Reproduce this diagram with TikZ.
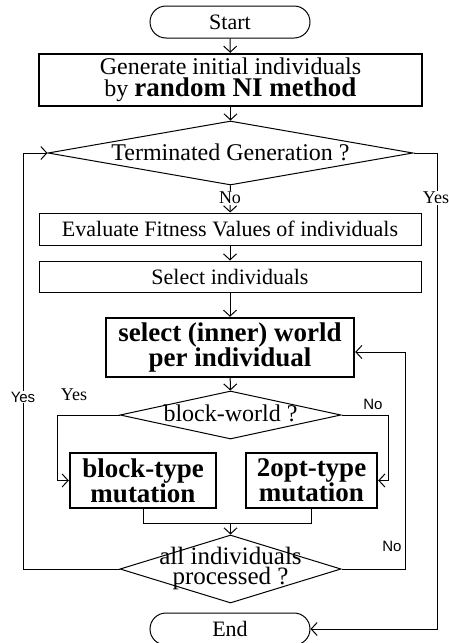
\documentclass[tikz,border=0pt]{standalone}
\usepackage{fontspec}
\setmainfont{Liberation Serif}
\newfontfamily\labsans{Liberation Sans}
\usetikzlibrary{arrows.meta,shapes.geometric,shapes.misc}

\begin{document}
\begin{tikzpicture}[x=1pt, y=-1pt,
    every node/.style={font=\fontsize{22}{22}\selectfont},
    big/.style={font=\fontsize{24}{22}\selectfont},
    term/.style={rounded rectangle, draw, line width=1pt, minimum width=160pt, minimum height=32pt, inner sep=0pt},
    box/.style={rectangle, draw, line width=1pt, inner sep=0pt},
    bbox/.style={rectangle, draw, line width=2.4pt, inner sep=0pt, align=center, font=\fontsize{27}{25}\selectfont\bfseries},
    dec/.style={diamond, draw, line width=1pt, inner sep=0pt},
    arr/.style={-{Straight Barb[length=6pt,width=13pt]}, line width=1pt},
    lab/.style={fill=white, inner sep=1pt, font=\fontsize{18}{18}\selectfont},
    slab/.style={fill=white, inner sep=1pt, font=\labsans\fontsize{15}{15}\selectfont}]

    \useasboundingbox (0,0) rectangle (448,643);

    % Start
    \node[term] (start) at (230,22) {Start};

    % initial individuals
    \node[box, line width=2.4pt, minimum width=383pt, minimum height=52pt, align=center, big] (gen) at (230.5,80)
        {Generate initial individuals\\by {\bfseries\fontsize{27}{24}\selectfont random NI method}};

    % terminated ?
    \node[dec, minimum width=365pt, minimum height=64pt] (term) at (230.5,153) {};
    \node[big] (termtxt) at (230.5,152) {Terminated Generation ?};

    % evaluate, select
    \node[box, minimum width=382pt, minimum height=32pt] (eval) at (230,229) {Evaluate Fitness Values of individuals};
    \node[box, minimum width=382pt, minimum height=31pt] (sel) at (230,276.5) {Select individuals};

    % world per individual
    \node[bbox, minimum width=248pt, minimum height=59pt] (world) at (230,347.5) {select (inner) world\\per individual};

    % block-world ?
    \node[dec, minimum width=221pt, minimum height=48pt] (blk) at (230.5,415) {};
    \node[big] (blktxt) at (230.5,413) {block-world ?};

    % mutations
    \node[bbox, minimum width=146pt, minimum height=55pt] (btype) at (143,480.5) {block-type\\mutation};
    \node[bbox, minimum width=131pt, minimum height=55pt] (otype) at (311.5,480.5) {2opt-type\\mutation};

    % all processed ?
    \node[dec, minimum width=221pt, minimum height=68pt] (all) at (230.5,569) {};
    \node[align=center, font=\fontsize{25}{20}\selectfont] (alltxt) at (230.5,568) {all individuals\\processed ?};

    % End
    \node[term] (end) at (230,629) {End};

    \coordinate (lft) at (57,480.5);
    \coordinate (rgt) at (388,480.5);
    \coordinate (mrg) at (230.5,523);
    \coordinate (loopl) at (23,153);
    \coordinate (loopr) at (405,352);
    \coordinate (yesr) at (437,629);

    % main flow
    \draw[arr] (start) -- (gen);
    \draw[arr] (gen) -- (term);
    \draw[arr] (term) -- (eval);
    \draw[arr] (eval) -- (sel);
    \draw[arr] (sel) -- (world);
    \draw[arr] (world) -- (blk);

    % branches
    \draw[arr] (blk.west) -| (lft) -- (btype.west);
    \draw[arr] (blk.east) -| (rgt) -- (otype.east);
    \draw[line width=1pt] (btype.south) |- (mrg);
    \draw[line width=1pt] (otype.south) |- (mrg);
    \draw[arr] (mrg) -- (all.north);

    % loops
    \draw[arr] (all.west) -| (loopl) -- (term.west);
    \draw[arr] (all.east) -| (loopr) -- (loopr -| world.east);
    \draw[arr] (term.east) -| (yesr) -- (end.east);

    % labels
    \node[lab] (nolab) at (230,198) {No};
    \node[lab] (yeslab) at (436,198) {Yes};
    \node[lab, fill=none] (yesblk) at (74,395) {Yes};
    \node[slab, fill=none] (noblk) at (373,404) {No};
    \node[slab] (yesl) at (23,397) {Yes};
    \node[slab, fill=none] (noall) at (392,546) {No};

\end{tikzpicture}
\end{document}
